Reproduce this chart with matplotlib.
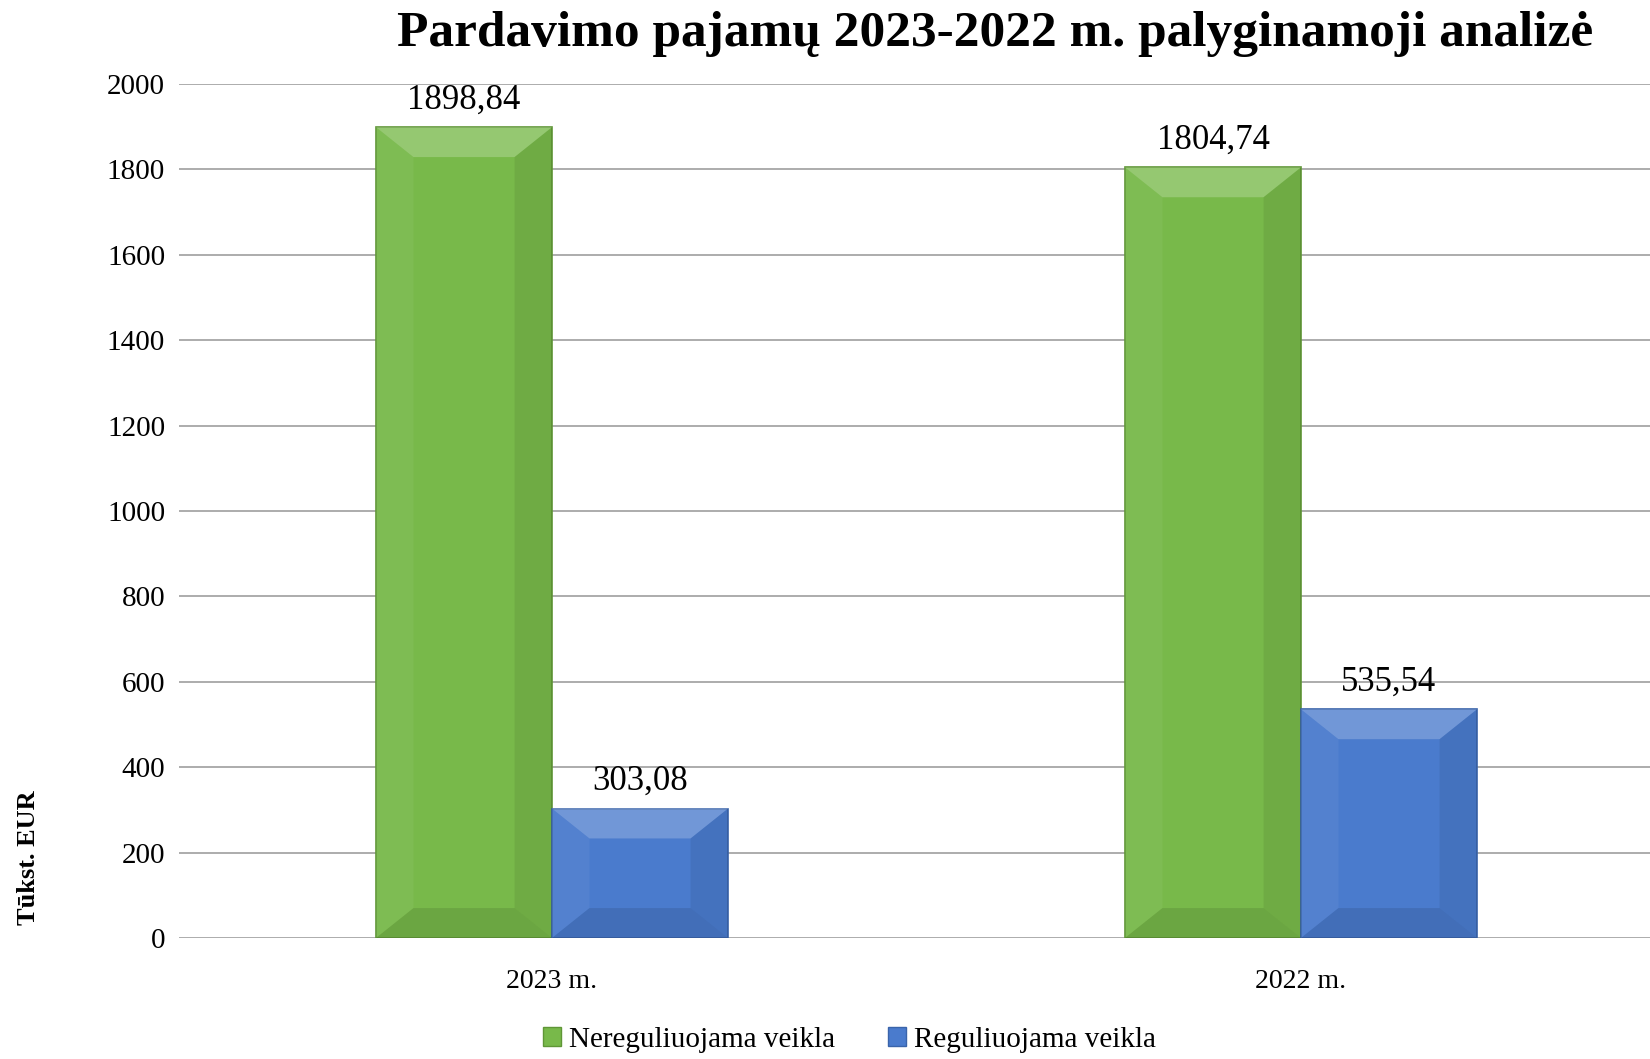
import matplotlib.pyplot as plt
from matplotlib.patches import Polygon, Patch
import numpy as np

metai = ['2023 m.', '2022 m.']
nereguliuojama = [1898.84, 1804.74]
reguliuojama = [303.08, 535.54]
serijos = ['Nereguliuojama veikla', 'Reguliuojama veikla']
y_ticks = list(range(0, 2001, 200))

plt.rcParams['font.family'] = ['Liberation Serif', 'DejaVu Serif']

fig = plt.figure(figsize=(16.5, 10.59), dpi=100)
ax = fig.add_axes([0.1085, 0.1143, 0.8915, 0.8064])

x = np.arange(len(metai))
w = 0.235
spalvos = {'green': ('#78b94a', '#5f9636'), 'blue': ('#4a7bcd', '#3a64aa')}


def bevel(ax, x0, x1, h, dx=0.05, dy=70):
    # briaunos efektas: sviesesnis virsus/kaire, tamsesnis desine/apacia
    dalys = [
        ([(x0, h), (x1, h), (x1 - dx, h - dy), (x0 + dx, h - dy)], 'white', 0.22),
        ([(x0, 0), (x0, h), (x0 + dx, h - dy), (x0 + dx, dy)], 'white', 0.05),
        ([(x1, 0), (x1, h), (x1 - dx, h - dy), (x1 - dx, dy)], 'black', 0.07),
        ([(x0, 0), (x1, 0), (x1 - dx, dy), (x0 + dx, dy)], 'black', 0.10),
    ]
    for pts, c, a in dalys:
        ax.add_patch(Polygon(pts, closed=True, facecolor=c, alpha=a, edgecolor='none', zorder=3))


for vals, off, key in [(nereguliuojama, -w / 2, 'green'), (reguliuojama, w / 2, 'blue')]:
    bars = ax.bar(x + off, vals, width=w, color=spalvos[key][0], edgecolor=spalvos[key][1],
                  linewidth=1.2, zorder=2)
    for b, v in zip(bars, vals):
        bevel(ax, b.get_x(), b.get_x() + b.get_width(), v)
        ax.text(b.get_x() + b.get_width() / 2, v + 25, f'{v:.2f}'.replace('.', ','),
                ha='center', va='bottom', fontsize=25)

ax.set_xlim(-0.498, 1.466)
ax.set_ylim(0, 2000)
ax.set_yticks(y_ticks)
ax.set_yticklabels([str(t) for t in y_ticks], fontsize=21)
ax.set_xticks(x)
ax.set_xticklabels(metai, fontsize=20)
ax.tick_params(axis='y', length=0, pad=10)
ax.tick_params(axis='x', length=0, pad=22)
ax.grid(axis='y', color='#a6a6a6', linewidth=1.3)
ax.set_axisbelow(True)
for s in ax.spines.values():
    s.set_visible(False)

fig.text(0.603, 0.968, 'Pardavimo pajamų 2023-2022 m. palyginamoji analizė',
         ha='center', va='center', fontsize=37, fontweight='bold')
fig.text(0.017, 0.19, 'Tūkst. EUR', rotation=90, ha='center', va='center',
         fontsize=19, fontweight='bold')

handles = [Patch(facecolor=spalvos['green'][0], edgecolor=spalvos['green'][1]),
           Patch(facecolor=spalvos['blue'][0], edgecolor=spalvos['blue'][1])]
fig.legend(handles, serijos, loc='center', bbox_to_anchor=(0.515, 0.018), ncol=2,
           frameon=False, fontsize=21, handlelength=0.6, handleheight=0.6,
           handletextpad=0.3, columnspacing=1.8)

fig.savefig('out.png', dpi=100)
